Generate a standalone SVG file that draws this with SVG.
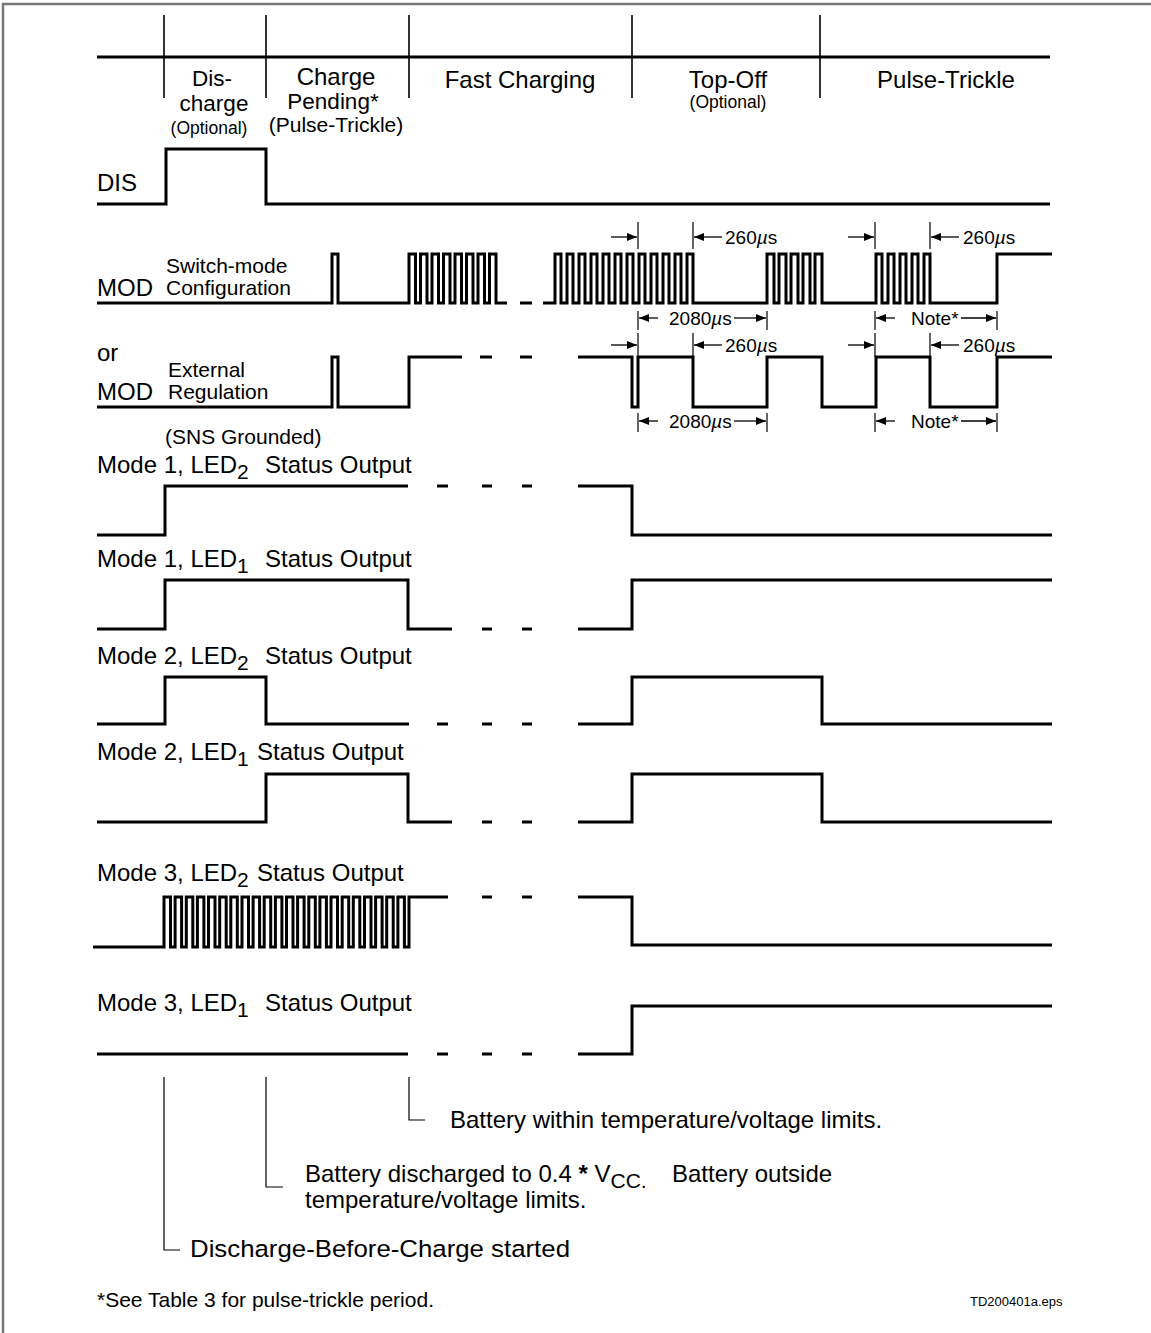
<svg xmlns="http://www.w3.org/2000/svg" width="1151" height="1333" viewBox="0 0 1151 1333">
<style>
text{font-family:"Liberation Sans",Arial,sans-serif;fill:#000}
.lbl{font-size:24px}
.hd{font-size:22.5px}
.sm{font-size:21px}
.xs{font-size:17.5px}
.dim{font-size:19px}
.mid{text-anchor:middle}
.wave{fill:none;stroke:#000;stroke-width:3;stroke-linejoin:miter;stroke-linecap:butt}
.div{stroke:#000;stroke-width:1.6}
.thin{stroke:#000;stroke-width:1.2;fill:none}
.arr{stroke:#000;stroke-width:1.3;fill:none;marker-end:url(#ah)}
.frame{stroke:#777;stroke-width:2.5;fill:none}
</style>
<defs>
<marker id="ah" viewBox="0 0 10 8" refX="10" refY="4" markerWidth="10" markerHeight="8" markerUnits="userSpaceOnUse" orient="auto">
<path d="M0,0 L10,4 L0,8 z" fill="#000"/>
</marker>
</defs>
<rect width="1151" height="1333" fill="#fff"/>
<path class="frame" d="M3 1333 V4 H1151"/>

<g id="header">
<path class="wave" d="M97 57 H1050"/>
<path class="div" d="M164 15 V98 M266 15 V98 M409 15 V98 M632 15 V98 M820 15 V98"/>
<text class="hd mid" x="212" y="86">Dis-</text>
<text class="hd mid" x="214" y="111">charge</text>
<text class="xs mid" x="209" y="134">(Optional)</text>
<text class="lbl mid" x="336" y="85">Charge</text>
<text class="hd mid" x="333" y="109">Pending*</text>
<text class="sm mid" x="336" y="132">(Pulse-Trickle)</text>
<text class="lbl mid" x="520" y="88">Fast Charging</text>
<text class="lbl mid" x="728" y="88">Top-Off</text>
<text class="xs mid" x="728" y="108">(Optional)</text>
<text class="lbl mid" x="946" y="88">Pulse-Trickle</text>
</g>

<g id="dis">
<text class="lbl" x="97" y="191">DIS</text>
<path class="wave" d="M97 204 H166 V149 H266 V204 H1050"/>
</g>

<g id="mod-switch">
<text class="lbl" x="97" y="296">MOD</text>
<text class="sm" x="166" y="273">Switch-mode</text>
<text class="sm" x="166" y="295">Configuration</text>
<path class="wave" d="M97 303 H332 V254 H338 V303 H409 V254 H415.5 V303 H420.5 V254 H427 V303 H432 V254 H438.5 V303 H443.5 V254 H450 V303 H455 V254 H461.5 V303 H466.5 V254 H473 V303 H478 V254 H484.5 V303 H489.5 V254 H496 V303 H507"/>
<path class="wave" d="M520 303 H532"/>
<path class="wave" d="M543 303 H555 V254 H561 V303 H567 V254 H573 V303 H579 V254 H585 V303 H591 V254 H597 V303 H603 V254 H609 V303 H615 V254 H621 V303 H627 V254 H633 V303 H639 V254 H645 V303 H651 V254 H657 V303 H663 V254 H669 V303 H675 V254 H681 V303 H687 V254 H693 V303 H767 V254 H774 V303 H779 V254 H786 V303 H791 V254 H798 V303 H803 V254 H810 V303 H815 V254 H822 V303 H876 V254 H882 V303 H888 V254 H894 V303 H900 V254 H906 V303 H912 V254 H918 V303 H924 V254 H930 V303 H997 V254 H1052"/>
</g>

<g id="mod-switch-dims">
<path class="thin" d="M638 222 V249 M693 222 V249 M875 222 V249 M930 222 V249"/>
<path class="arr" d="M611 237 H637"/>
<path class="arr" d="M722 237 H694"/>
<path class="arr" d="M848 237 H874"/>
<path class="arr" d="M959 237 H931"/>
<text class="dim" x="725" y="244">260<tspan font-style="italic">µ</tspan>s</text>
<text class="dim" x="963" y="244">260<tspan font-style="italic">µ</tspan>s</text>
<path class="thin" d="M638 311 V330 M767 311 V330 M875 311 V330 M997 311 V330"/>
<path class="arr" d="M658 318 H639"/>
<path class="arr" d="M734 318 H766"/>
<path class="arr" d="M895 318 H876"/>
<path class="arr" d="M961 318 H996"/>
<text class="dim" x="669" y="325">2080<tspan font-style="italic">µ</tspan>s</text>
<text class="dim" x="911" y="325">Note*</text>
</g>

<g id="mod-external">
<text class="lbl" x="97" y="361">or</text>
<text class="sm" x="168" y="377">External</text>
<text class="lbl" x="97" y="400">MOD</text>
<text class="sm" x="168" y="399">Regulation</text>
<text class="sm" x="165" y="444">(SNS Grounded)</text>
<path class="wave" d="M97 407 H332 V357 H338 V407 H409 V357 H462"/>
<path class="wave" d="M480 357 H492 M520 357 H532"/>
<path class="wave" d="M578 357 H632 V407 H638 V357 H693 V407 H767 V357 H822 V407 H876 V357 H930 V407 H997 V357 H1052"/>
</g>

<g id="mod-external-dims">
<path class="thin" d="M638 333 V357 M693 333 V357 M875 333 V357 M930 333 V357"/>
<path class="arr" d="M611 345 H637"/>
<path class="arr" d="M722 345 H694"/>
<path class="arr" d="M848 345 H874"/>
<path class="arr" d="M959 345 H931"/>
<text class="dim" x="725" y="352">260<tspan font-style="italic">µ</tspan>s</text>
<text class="dim" x="963" y="352">260<tspan font-style="italic">µ</tspan>s</text>
<path class="thin" d="M638 413 V432 M767 413 V432 M875 413 V432 M997 413 V432"/>
<path class="arr" d="M658 421 H639"/>
<path class="arr" d="M734 421 H766"/>
<path class="arr" d="M895 421 H876"/>
<path class="arr" d="M961 421 H996"/>
<text class="dim" x="669" y="428">2080<tspan font-style="italic">µ</tspan>s</text>
<text class="dim" x="911" y="428">Note*</text>
</g>

<g id="mode1-led2">
<text class="lbl" x="97" y="473">Mode 1, LED<tspan font-size="21" dy="6">2</tspan></text>
<text class="lbl" x="265" y="473">Status Output</text>
<path class="wave" d="M97 535 H165 V486 H408"/>
<path class="wave" d="M437 486 H448 M482 486 H492 M522 486 H532"/>
<path class="wave" d="M578 486 H632 V535 H1052"/>
</g>

<g id="mode1-led1">
<text class="lbl" x="97" y="567">Mode 1, LED<tspan font-size="21" dy="6">1</tspan></text>
<text class="lbl" x="265" y="567">Status Output</text>
<path class="wave" d="M97 629 H165 V580 H408 V629 H452"/>
<path class="wave" d="M482 629 H492 M522 629 H532"/>
<path class="wave" d="M578 629 H632 V580 H1052"/>
</g>

<g id="mode2-led2">
<text class="lbl" x="97" y="664">Mode 2, LED<tspan font-size="21" dy="6">2</tspan></text>
<text class="lbl" x="265" y="664">Status Output</text>
<path class="wave" d="M97 724 H165 V677 H266 V724 H409"/>
<path class="wave" d="M437 724 H448 M482 724 H492 M522 724 H532"/>
<path class="wave" d="M578 724 H632 V677 H822 V724 H1052"/>
</g>

<g id="mode2-led1">
<text class="lbl" x="97" y="760">Mode 2, LED<tspan font-size="21" dy="6">1</tspan></text>
<text class="lbl" x="257" y="760">Status Output</text>
<path class="wave" d="M97 822 H266 V774 H408 V822 H452"/>
<path class="wave" d="M482 822 H492 M522 822 H532"/>
<path class="wave" d="M578 822 H632 V774 H822 V822 H1052"/>
</g>

<g id="mode3-led2">
<text class="lbl" x="97" y="881">Mode 3, LED<tspan font-size="21" dy="6">2</tspan></text>
<text class="lbl" x="257" y="881">Status Output</text>
<path class="wave" d="M93 947 H164 V897 H170.5 V947 H175.1 V897 H181.6 V947 H186.3 V897 H192.8 V947 H197.4 V897 H203.9 V947 H208.5 V897 H215 V947 H219.7 V897 H226.2 V947 H230.8 V897 H237.3 V947 H242 V897 H248.5 V947 H253.1 V897 H259.6 V947 H264.2 V897 H270.7 V947 H275.4 V897 H281.9 V947 H286.5 V897 H293 V947 H297.6 V897 H304.1 V947 H308.8 V897 H315.3 V947 H319.9 V897 H326.4 V947 H331 V897 H337.5 V947 H342.2 V897 H348.7 V947 H353.3 V897 H359.8 V947 H364.5 V897 H371 V947 H375.6 V897 H382.1 V947 H386.7 V897 H393.2 V947 H397.9 V897 H404.4 V947 H409 V897 H448"/>
<path class="wave" d="M482 897 H492 M522 897 H532"/>
<path class="wave" d="M578 897 H632 V945 H1052"/>
</g>

<g id="mode3-led1">
<text class="lbl" x="97" y="1011">Mode 3, LED<tspan font-size="21" dy="6">1</tspan></text>
<text class="lbl" x="265" y="1011">Status Output</text>
<path class="wave" d="M97 1054 H408"/>
<path class="wave" d="M437 1054 H448 M482 1054 H492 M522 1054 H532"/>
<path class="wave" d="M578 1054 H632 V1006 H1052"/>
</g>

<g id="annotations">
<path class="thin" d="M409 1077 V1120 H425"/>
<path class="thin" d="M266 1077 V1187 H283"/>
<path class="thin" d="M164 1077 V1250 H180"/>
<text class="lbl" x="450" y="1128">Battery within temperature/voltage limits.</text>
<text class="lbl" x="305" y="1182">Battery discharged to 0.4 <tspan font-weight="bold">*</tspan> V<tspan font-size="21" dy="6">CC.</tspan></text>
<text class="lbl" x="672" y="1182">Battery outside</text>
<text class="lbl" x="305" y="1208">temperature/voltage limits.</text>
<text x="190" y="1257" font-size="24.5" textLength="380" lengthAdjust="spacingAndGlyphs">Discharge-Before-Charge started</text>
<text class="sm" x="97" y="1307">*See Table 3 for pulse-trickle period.</text>
<text x="970" y="1306" font-size="13">TD200401a.eps</text>
</g>
</svg>
